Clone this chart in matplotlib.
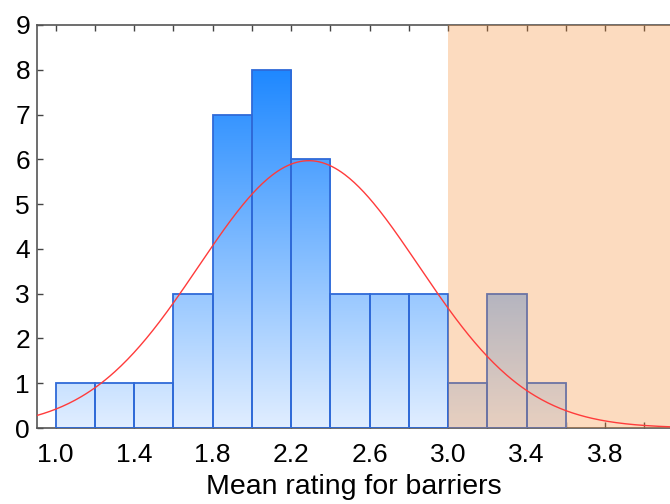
import numpy as np
import matplotlib
matplotlib.use("Agg")
import matplotlib.pyplot as plt
from matplotlib.colors import LinearSegmentedColormap

# histogram data (bins of 0.2)
bin_left = [1.0, 1.2, 1.4, 1.6, 1.8, 2.0, 2.2, 2.4, 2.6, 2.8, 3.0, 3.2, 3.4]
counts = [1, 1, 1, 3, 7, 8, 6, 3, 3, 3, 1, 3, 1]
bin_width = 0.2

# fitted normal curve
curve_mean = 2.29
curve_sd = 0.56
curve_peak = 5.97

# shaded region start
shade_start = 3.0

x_ticks = [1.0, 1.4, 1.8, 2.2, 2.6, 3.0, 3.4, 3.8]
x_tick_labels = ["1.0", "1.4", "1.8", "2.2", "2.6", "3.0", "3.4", "3.8"]
y_ticks = list(range(0, 10))

plt.rcParams['font.family'] = ['Liberation Sans', 'DejaVu Sans']

fig = plt.figure(figsize=(6.7, 5.04), dpi=100)
ax = fig.add_axes([37 / 670, 76 / 504, 633 / 670, 403 / 504])
xmin, xmax = 0.905, 4.13
ax.set_xlim(xmin, xmax)
ax.set_ylim(0, 9)

# gradient fill for bars, based on y value
cmap = LinearSegmentedColormap.from_list("bar_grad", ["#e1eeff", "#1e88ff"])
grad = np.linspace(0, 1, 256).reshape(-1, 1)

bars = ax.bar(bin_left, counts, width=bin_width, align='edge',
              facecolor='none', edgecolor='#2f6ad8', linewidth=1.3, zorder=3)
for b, c in zip(bars, counts):
    x0 = b.get_x()
    im = ax.imshow(grad[: int(256 * c / 8) or 1], cmap=cmap, vmin=0, vmax=1,
                   origin='lower', aspect='auto',
                   extent=[x0, x0 + bin_width, 0, c], zorder=2,
                   interpolation='bilinear')
    im.set_clip_path(b)

# shaded region on top of bars
ax.axvspan(shade_start, xmax + 1, color=(248 / 255, 138 / 255, 45 / 255),
           alpha=0.3, lw=0, zorder=4)

# normal curve
xs = np.linspace(xmin, xmax, 400)
ys = curve_peak * np.exp(-0.5 * ((xs - curve_mean) / curve_sd) ** 2)
ax.plot(xs, ys, color='#ff3b3b', lw=1.0, zorder=5)

ax.set_xticks(x_ticks)
ax.set_xticklabels(x_tick_labels)
ax.set_xticks(np.arange(1.0, 4.15, 0.2), minor=True)
ax.set_yticks(y_ticks)
ax.tick_params(axis='both', which='both', direction='in', color='#444444',
               labelsize=19, length=4, width=1)
ax.tick_params(axis='x', which='both', top=True, pad=11)
ax.tick_params(axis='y', pad=5)
ax.tick_params(axis='x', which='minor', labelbottom=False)

for s in ['left', 'bottom', 'top']:
    ax.spines[s].set_color('#555555')
    ax.spines[s].set_linewidth(1.2)
ax.spines['right'].set_visible(False)

ax.set_xlabel("Mean rating for barriers", fontsize=20.5, labelpad=5)

fig.savefig("out.png", dpi=100)
